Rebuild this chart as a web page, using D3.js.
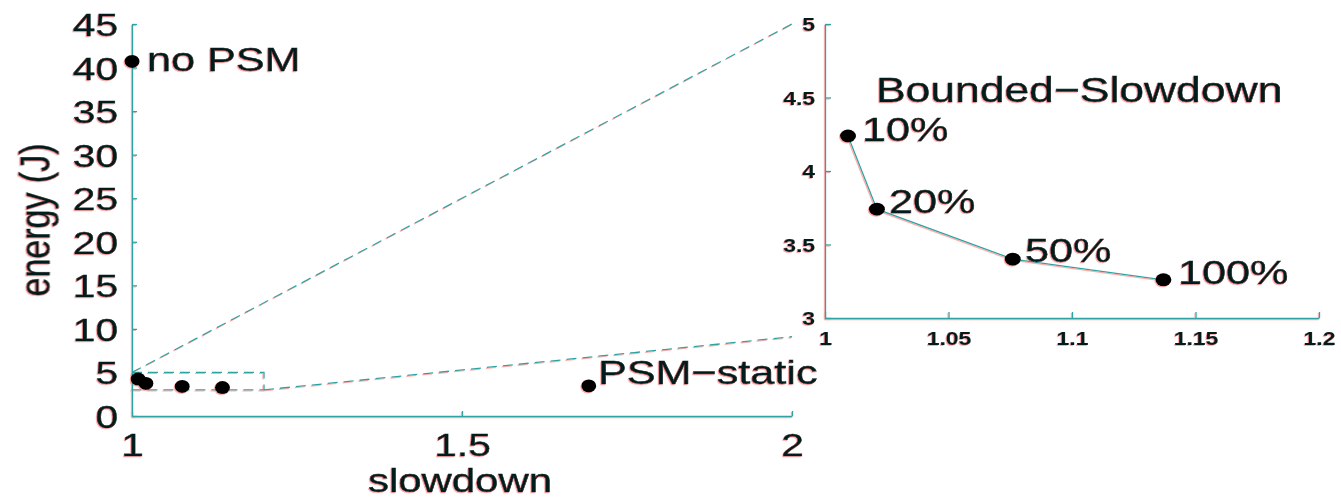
<!DOCTYPE html>
<html><head><meta charset="utf-8">
<script src="https://cdn.jsdelivr.net/npm/d3@7"></script>
<style>body{margin:0;background:#fff}svg{display:block}</style>
</head><body>
<svg id="c" width="1341" height="499"></svg>
<script>
// ---------- data ----------
const leftXTicks = [1, 1.5, 2];
const leftYTicks = [0, 5, 10, 15, 20, 25, 30, 35, 40, 45];
const insetXTicks = [1, 1.05, 1.1, 1.15, 1.2];
const insetYTicks = [3, 3.5, 4, 4.5, 5];

const boundedLabels = ["10%", "20%", "50%", "100%"];
const boundedSlowdown = [1.0093, 1.021, 1.076, 1.137];
const boundedEnergy = [4.238, 3.74, 3.40, 3.26];

const otherLabels = ["no PSM", "PSM\u2212static"];
const otherSlowdown = [1.0, 1.692];
const otherEnergy = [40.7, 3.45];

// zoom box (slowdown 1..1.2, energy 3..5) and the two connecting dashed lines
const zoomBoxX = [1, 1.2];
const zoomBoxY = [3, 5];
const linkStart = [[1, 5], [1.2, 3]];
const linkEnd = [[2, 45], [2, 9.1]];

// text anchors (data units)
const otherLabelX = [1.0227, 1.706];
const otherLabelY = [39.6, 3.67];
const boundedLabelX = [1.015, 1.0259, 1.081, 1.1429];
const boundedLabelY = [4.204, 3.714, 3.381, 3.231];
const insetTitle = "Bounded\u2212Slowdown";
const insetTitlePos = [1.0206, 4.469];

// ---------- drawing ----------
const SX = 1.27;
const TEAL = "#2fa3a3";
const INK = "#051c1c";
const FONT = "'Liberation Sans', Arial, Helvetica, sans-serif";

const svg = d3.select("#c");
const defs = svg.append("defs");
const f = defs.append("filter").attr("id", "fr").attr("filterUnits", "userSpaceOnUse")
  .attr("x", 0).attr("y", 0).attr("width", 1341).attr("height", 499);
f.append("feDropShadow").attr("dx", -1).attr("dy", 1).attr("stdDeviation", 0.4)
  .attr("flood-color", "#ff7f7f").attr("flood-opacity", 0.65);

const root = svg.append("g").attr("filter", "url(#fr)");

const xL = d3.scaleLinear().domain([1, 2]).range([132, 792]);
const yL = d3.scaleLinear().domain([0, 45]).range([416, 24]);
const xI = d3.scaleLinear().domain([1, 1.2]).range([825, 1319]);
const yI = d3.scaleLinear().domain([3, 5]).range([318, 24]);

function addText(g, str, x, y, size, opts = {}) {
  return g.append("text")
    .attr("transform", `translate(${x},${y}) scale(${SX},1)` + (opts.rotate ? " rotate(-90)" : ""))
    .attr("text-anchor", opts.anchor || "start")
    .attr("font-family", FONT)
    .attr("font-size", size)
    .attr("font-weight", opts.bold ? "bold" : "normal")
    .attr("fill", INK)
    .attr("stroke", INK)
    .attr("stroke-width", opts.bold ? 0.2 : 0.45)
    .text(str);
}

function styleAxis(g, textFn) {
  g.select(".domain").attr("stroke", TEAL).attr("stroke-width", 1.3);
  g.selectAll(".tick line").attr("stroke", TEAL).attr("stroke-width", 1.3);
  g.selectAll(".tick text").remove();
  g.selectAll(".tick").each(function (d) { textFn(d3.select(this), d); });
}

// left axes
const gLY = root.append("g").attr("transform", `translate(${xL(1)},0)`)
  .call(d3.axisLeft(yL).tickValues(leftYTicks).tickSizeInner(-5).tickSizeOuter(0));
styleAxis(gLY, (t, d) => addText(t, String(d), -14, 11.5, 32, { anchor: "end" }));

const gLX = root.append("g").attr("transform", `translate(0,${yL(0)})`)
  .call(d3.axisBottom(xL).tickValues(leftXTicks).tickSizeInner(-5).tickSizeOuter(0));
styleAxis(gLX, (t, d) => addText(t, String(d), 0, 40, 32, { anchor: "middle" }));

addText(root, "slowdown", 460, 492, 33, { anchor: "middle" });
addText(root, "energy (J)", 50, 220, 34, { anchor: "middle", rotate: true });

// zoom box and link lines
root.append("rect")
  .attr("x", xL(zoomBoxX[0])).attr("y", yL(zoomBoxY[1]))
  .attr("width", xL(zoomBoxX[1]) - xL(zoomBoxX[0]))
  .attr("height", yL(zoomBoxY[0]) - yL(zoomBoxY[1]))
  .attr("fill", "none").attr("stroke", TEAL).attr("stroke-width", 1.3)
  .attr("stroke-dasharray", "10,6");
root.selectAll("line.link").data(d3.range(linkStart.length)).join("line")
  .attr("class", "link")
  .attr("x1", i => xL(linkStart[i][0])).attr("y1", i => yL(linkStart[i][1]))
  .attr("x2", i => xL(linkEnd[i][0])).attr("y2", i => yL(linkEnd[i][1]))
  .attr("stroke", TEAL).attr("stroke-width", 1.3).attr("stroke-dasharray", "10,6");

// left points
root.selectAll("ellipse.b").data(boundedSlowdown).join("ellipse")
  .attr("class", "b")
  .attr("cx", (d) => xL(d)).attr("cy", (d, i) => yL(boundedEnergy[i]))
  .attr("rx", 7.5).attr("ry", 6.5).attr("fill", "#000");
root.selectAll("ellipse.o").data(otherSlowdown).join("ellipse")
  .attr("class", "o")
  .attr("cx", (d) => xL(d)).attr("cy", (d, i) => yL(otherEnergy[i]))
  .attr("rx", 7.5).attr("ry", 6.5).attr("fill", "#000");
otherLabels.forEach((s, i) => addText(root, s, xL(otherLabelX[i]), yL(otherLabelY[i]), 34));

// inset axes
const gIY = root.append("g").attr("transform", `translate(${xI(1)},0)`)
  .call(d3.axisLeft(yI).tickValues(insetYTicks).tickSizeInner(-6).tickSizeOuter(0));
styleAxis(gIY, (t, d) => addText(t, String(d), -10, 6.5, 18, { anchor: "end", bold: true }));

const gIX = root.append("g").attr("transform", `translate(0,${yI(3)})`)
  .call(d3.axisBottom(xI).tickValues(insetXTicks).tickSizeInner(-6).tickSizeOuter(0));
styleAxis(gIX, (t, d) => addText(t, String(d), 0, 27, 18, { anchor: "middle", bold: true }));

// inset line & points
const line = d3.line().x((d) => xI(d[0])).y((d) => yI(d[1]));
root.append("path")
  .datum(boundedSlowdown.map((d, i) => [d, boundedEnergy[i]]))
  .attr("d", line).attr("fill", "none").attr("stroke", TEAL).attr("stroke-width", 1.3);
root.selectAll("ellipse.i").data(boundedSlowdown).join("ellipse")
  .attr("class", "i")
  .attr("cx", (d) => xI(d)).attr("cy", (d, i) => yI(boundedEnergy[i]))
  .attr("rx", 8).attr("ry", 6.5).attr("fill", "#000");
boundedLabels.forEach((s, i) => addText(root, s, xI(boundedLabelX[i]), yI(boundedLabelY[i]), 34));
addText(root, insetTitle, xI(insetTitlePos[0]), yI(insetTitlePos[1]), 35);
</script>
</body></html>
